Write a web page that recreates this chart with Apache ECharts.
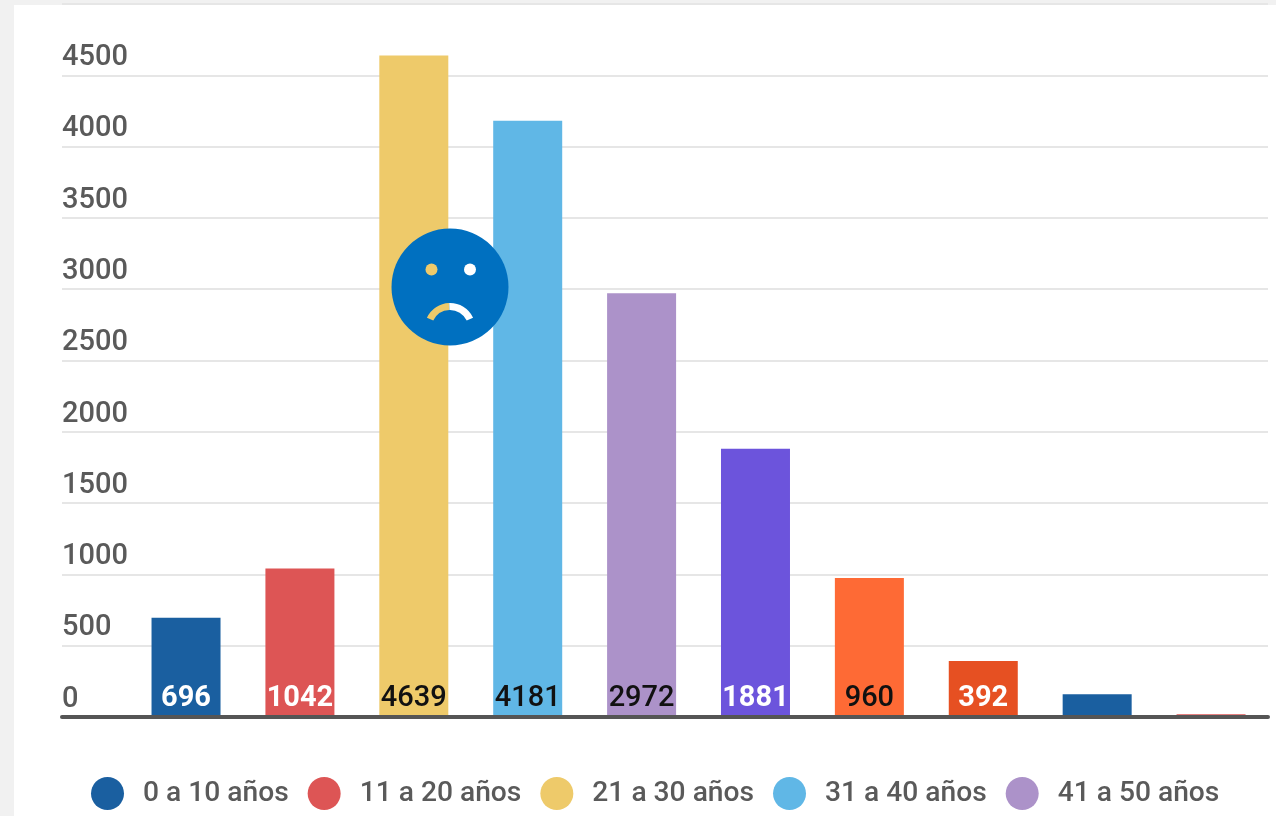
<!DOCTYPE html>
<html><head><meta charset="utf-8">
<style>html,body{margin:0;padding:0;background:#f1f1f1}#c{width:1276px;height:816px}</style>
<script src="https://cdn.jsdelivr.net/npm/echarts@6/dist/echarts.min.js"></script>
</head><body><div id="c"></div>
<script>
const categories = ['0 a 10 años','11 a 20 años','21 a 30 años','31 a 40 años','41 a 50 años','51 a 60 años','61 a 70 años','71 a 80 años','81 a 90 años','91 a 100 años'];
const values = [696,1042,4639,4181,2972,1881,975,392,160,20];
const barLabels = ['696','1042','4639','4181','2972','1881','960','392','',''];
const legendItems = categories.slice(0,5);
const colors = ['#1a5fa0','#dd5555','#eeca6a','#60b7e6','#ac92c9','#6c54dc','#fe6a35','#e65022','#1a5fa0','#dd5555'];
const labelColors = ['#fff','#fff','#111','#111','#111','#fff','#111','#fff','#fff','#fff'];
const FONT = 'Roboto';
const chart = echarts.init(document.getElementById('c'), null, {renderer:'canvas'});
chart.setOption({
  animation:false,
  backgroundColor:'#f1f1f1',
  textStyle:{fontFamily:FONT},
  grid:{left:62,right:8,top:4,bottom:99,containLabel:false},
  legend:{
    show:true,left:91,top:777,padding:0,icon:'circle',itemWidth:33,itemHeight:33,itemGap:19,
    data:legendItems,
    textStyle:{fontFamily:FONT,fontSize:28.2,fontWeight:500,color:'#5a5a5a',padding:[2,0,0,14]}
  },
  xAxis:{type:'value',min:-1.089,max:9.5,
    axisLabel:{show:false},axisTick:{show:false},splitLine:{show:false},
    axisLine:{show:true,onZero:true,lineStyle:{color:'#555',width:4}},z:5},
  yAxis:{type:'value',min:0,max:5000,interval:500,
    axisLine:{show:false},axisTick:{show:false},
    splitLine:{show:true,lineStyle:{color:'#e6e6e6',width:2}},
    axisLabel:{inside:true,margin:0,align:'left',verticalAlign:'bottom',
      padding:[0,0,3,0],fontFamily:FONT,fontSize:29,fontWeight:500,color:'#5a5a5a',
      formatter:v=>v===5000?'':String(v)}},
  series:categories.map((name,i)=>({
    type:'bar',name,stack:'all',barWidth:69,
    data:[[i,values[i]]],
    itemStyle:{color:colors[i]},
    label:{show:barLabels[i]!=='',position:'insideBottom',distance:4,
      formatter:()=>barLabels[i],fontFamily:FONT,fontSize:29,
      color:labelColors[i],fontWeight:labelColors[i]==='#fff'?'bold':500}
  })),
  graphic:[
    {type:'rect',z:-1,silent:true,shape:{x:14,y:5,width:1262,height:811},style:{fill:'#fff'}},
    {type:'circle',z:100,shape:{cx:450,cy:287,r:58.5},style:{fill:'#0070c0'}},
    {type:'circle',z:101,shape:{cx:431.5,cy:269.5,r:6},style:{fill:'#eeca6a'}},
    {type:'circle',z:101,shape:{cx:470,cy:269.5,r:6},style:{fill:'#fff'}},
    {type:'arc',z:101,shape:{cx:450,cy:328.5,r:22,startAngle:Math.PI*1.14,endAngle:Math.PI*1.49,clockwise:true},style:{stroke:'#eeca6a',lineWidth:7,fill:null}},
    {type:'arc',z:101,shape:{cx:450,cy:328.5,r:22,startAngle:Math.PI*1.49,endAngle:Math.PI*1.86,clockwise:true},style:{stroke:'#fff',lineWidth:7,fill:null}}
  ]
});
</script></body></html>
